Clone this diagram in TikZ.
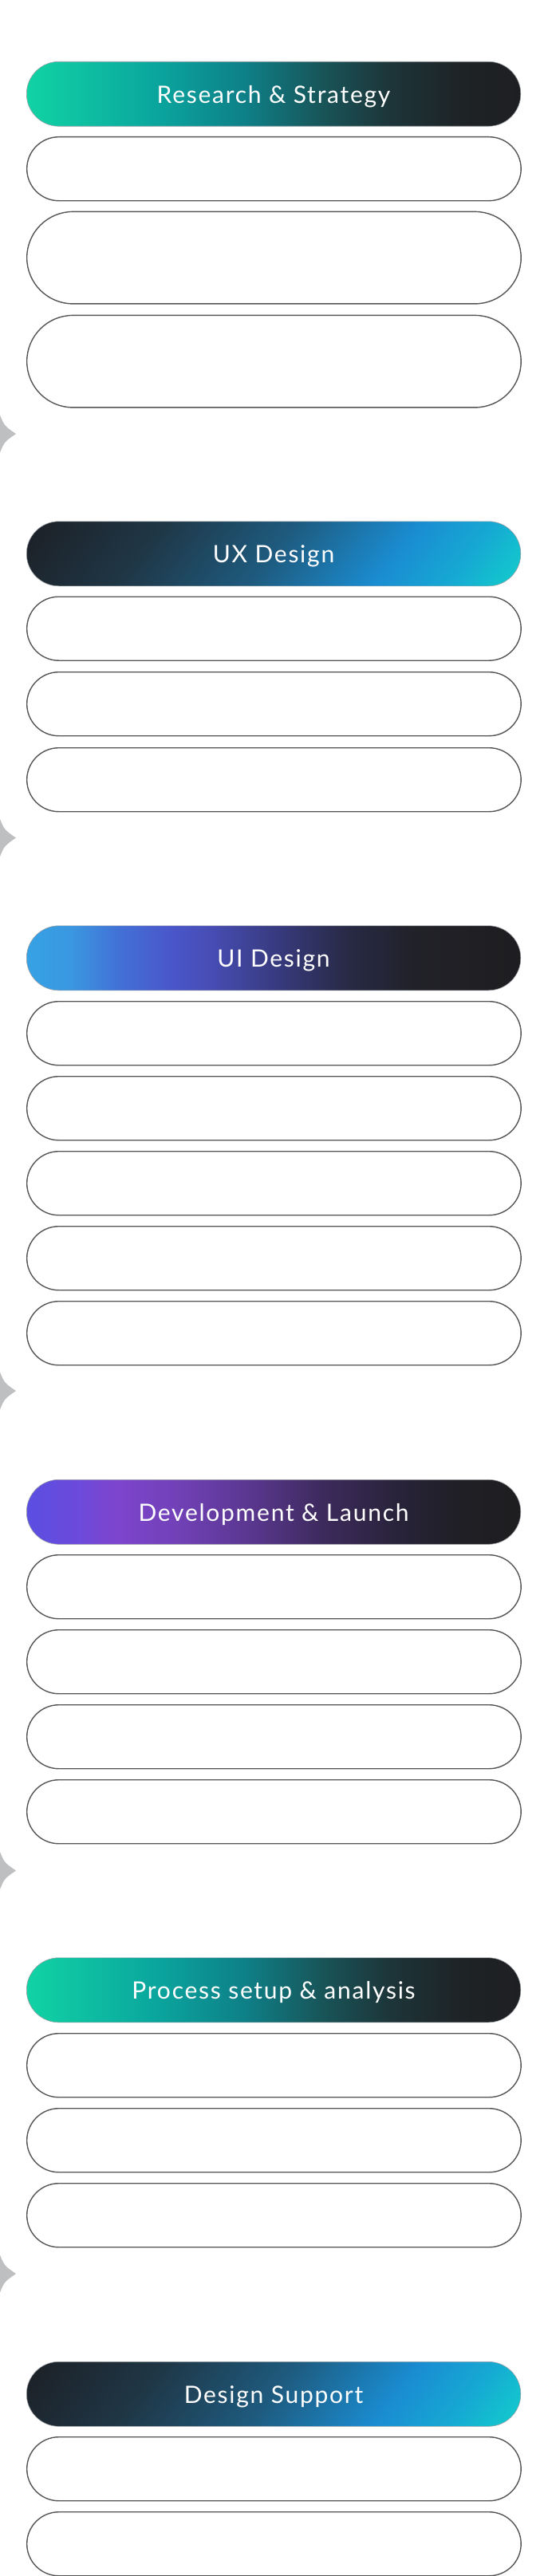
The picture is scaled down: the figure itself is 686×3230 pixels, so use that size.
\documentclass[tikz,border=0pt]{standalone}
\usepackage{fontspec}
\setmainfont[LetterSpace=5.8]{Lato}
\definecolor{slotline}{HTML}{555555}
\definecolor{headline}{HTML}{9A9FA3}
\definecolor{sparkgray}{HTML}{BEBFC1}
\definecolor{rsA}{HTML}{11D3A4}
\definecolor{rsB}{HTML}{0AA69E}
\definecolor{rsC}{HTML}{0E8088}
\definecolor{rsD}{HTML}{185458}
\definecolor{rsE}{HTML}{1D3438}
\definecolor{rsF}{HTML}{1E2326}
\definecolor{rsG}{HTML}{1E1F22}
\definecolor{uxA}{HTML}{1C1F25}
\definecolor{uxB}{HTML}{1F3645}
\definecolor{uxC}{HTML}{1E5B7F}
\definecolor{uxD}{HTML}{1A8DD2}
\definecolor{uxE}{HTML}{16A8D3}
\definecolor{uxF}{HTML}{12CFCB}
\definecolor{uiA}{HTML}{36A2E5}
\definecolor{uiB}{HTML}{3A97E0}
\definecolor{uiC}{HTML}{4270D6}
\definecolor{uiD}{HTML}{4A57CA}
\definecolor{uiE}{HTML}{474DB5}
\definecolor{uiF}{HTML}{373A7D}
\definecolor{uiG}{HTML}{282A45}
\definecolor{uiH}{HTML}{212128}
\definecolor{uiI}{HTML}{1E1E21}
\definecolor{devA}{HTML}{5A4FE2}
\definecolor{devB}{HTML}{6B4ADB}
\definecolor{devC}{HTML}{7D45CE}
\definecolor{devD}{HTML}{7241B8}
\definecolor{devE}{HTML}{5A3790}
\definecolor{devF}{HTML}{3D2A5C}
\definecolor{devG}{HTML}{28233A}
\definecolor{devH}{HTML}{201F26}
\definecolor{devI}{HTML}{1E1E20}
\pgfdeclarehorizontalshading{rsgrad}{100bp}{color(0bp)=(rsA); color(25bp)=(rsA); color(38bp)=(rsB); color(47bp)=(rsC); color(55bp)=(rsD); color(62bp)=(rsE); color(69bp)=(rsF); color(75bp)=(rsG); color(100bp)=(rsG)}
\pgfdeclarehorizontalshading{uxgrad}{100bp}{color(0bp)=(uxA); color(28bp)=(uxA); color(39bp)=(uxB); color(50bp)=(uxC); color(60.1bp)=(uxD); color(65.8bp)=(uxE); color(72bp)=(uxF); color(100bp)=(uxF)}
\pgfdeclarehorizontalshading{uigrad}{100bp}{color(0bp)=(uiA); color(25bp)=(uiA); color(29.5bp)=(uiB); color(34.5bp)=(uiC); color(39.5bp)=(uiD); color(43.5bp)=(uiE); color(50.5bp)=(uiF); color(57.5bp)=(uiG); color(64.5bp)=(uiH); color(75bp)=(uiI); color(100bp)=(uiI)}
\pgfdeclarehorizontalshading{devgrad}{100bp}{color(0bp)=(devA); color(25bp)=(devA); color(30bp)=(devB); color(34bp)=(devC); color(40bp)=(devD); color(47.5bp)=(devE); color(55bp)=(devF); color(62.5bp)=(devG); color(68.5bp)=(devH); color(75bp)=(devI); color(100bp)=(devI)}

\begin{document}
\begin{tikzpicture}[x=1pt,y=-1pt,
  head/.style={anchor=north west, minimum width=619.5pt, minimum height=81pt, rounded corners=40.5pt, inner sep=0pt, draw=headline, line width=0.6pt, text=white, font=\fontsize{30}{36}\selectfont, text height=23pt, text depth=0pt},
  tilthead/.style={head, path picture={\shade[shading=uxgrad, shading angle=-37] (path picture bounding box.center) ++(-310,-310) rectangle ++(620,620);}},
  slot/.style={anchor=north west, minimum width=619.5pt, minimum height=80pt, rounded corners=40pt, inner sep=0pt, draw=slotline, line width=1.4pt, fill=white},
  tallslot/.style={slot, minimum height=115.5pt, rounded corners=57.75pt},
  sparkle/.pic={\fill[sparkgray] (0,-23.5) .. controls (5.5,-10) .. (20,0) .. controls (5.5,10) .. (0,23.5) .. controls (-5.5,10) .. (-20,0) .. controls (-5.5,-10) .. cycle;}]
\clip (0,0) rectangle (686,3230);
\node[head, shade, shading=rsgrad] (rs) at (33,77) {Research \& Strategy};
\node[slot] (rs1) at (33,171) {};
\node[tallslot] (rs2) at (33,264.7) {};
\node[tallslot] (rs3) at (33,394.7) {};
\pic at (0,544) {sparkle};
\node[tilthead] (ux) at (33,653.5) {UX Design};
\node[slot] (ux1) at (33,747.5) {};
\node[slot] (ux2) at (33,842) {};
\node[slot] (ux3) at (33,937) {};
\pic at (0,1050.5) {sparkle};
\node[head, shade, shading=uigrad] (ui) at (33,1160.5) {UI Design};
\node[slot] (ui1) at (33,1255) {};
\node[slot] (ui2) at (33,1349) {};
\node[slot] (ui3) at (33,1443) {};
\node[slot] (ui4) at (33,1537) {};
\node[slot] (ui5) at (33,1631) {};
\pic at (0,1744) {sparkle};
\node[head, shade, shading=devgrad] (dev) at (33,1855) {Development \& Launch};
\node[slot] (dev1) at (33,1949) {};
\node[slot] (dev2) at (33,2043) {};
\node[slot] (dev3) at (33,2137) {};
\node[slot] (dev4) at (33,2231) {};
\pic at (0,2345.5) {sparkle};
\node[head, shade, shading=rsgrad] (proc) at (33,2454.5) {Process setup \& analysis};
\node[slot] (proc1) at (33,2549) {};
\node[slot] (proc2) at (33,2643) {};
\node[slot] (proc3) at (33,2737) {};
\pic at (0,2851) {sparkle};
\node[tilthead] (sup) at (33,2961) {Design Support};
\node[slot] (sup1) at (33,3055) {};
\node[slot] (sup2) at (33,3149) {};
\end{tikzpicture}
\end{document}
